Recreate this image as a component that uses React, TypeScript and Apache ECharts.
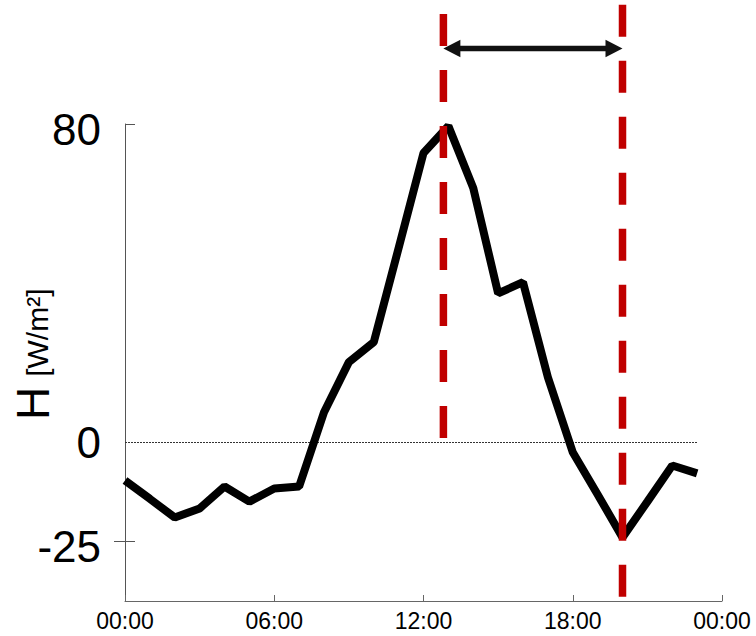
import { useEffect, useRef } from "react";
import * as echarts from "echarts";

// Hourly sensible heat flux H over one day
const hours = [0, 1, 2, 3, 4, 5, 6, 7, 8, 9, 10, 11, 12, 13, 14, 15, 16, 17, 18, 19, 20, 21, 22, 23];
const heatFlux = [
  -9.7, -14.3, -19.0, -16.7, -11.2, -15.0, -11.7, -11.2, 7.5, 20.1, 25.1, 48.8,
  72.7, 79.5, 63.9, 37.4, 40.2, 16.3, -2.6, -13.2, -24.0, -15.0, -5.9, -7.9,
];
const yLabelValues = [-25, 0, 80];
const xTickHours = [0, 6, 12, 18, 24];

// Vertical guides (peak and evening minimum) with their vertical extent in H units
const guideHours = [12.8, 20];
const guideTops = [107.7, 110];
const guideBottoms = [0.9, -39.1];
// Height (H units) of the double arrow spanning the two guides
const spanArrowValue = 99;

const FONT = "'Liberation Sans', Arial, Helvetica, sans-serif";

export default function App() {
  const ref = useRef<HTMLDivElement>(null);

  useEffect(() => {
    const el = ref.current;
    if (!el) return;
    const chart = echarts.init(el, null, { renderer: "svg" });

    chart.setOption({
      animation: false,
      grid: { left: 125, right: 34, top: 124, bottom: 35 },
      xAxis: {
        type: "value",
        min: 0,
        max: 24,
        interval: 6,
        axisLine: { onZero: false, lineStyle: { color: "#666", width: 1 } },
        axisTick: { inside: true, length: 6, customValues: xTickHours, lineStyle: { color: "#666" } },
        splitLine: { show: false },
        axisLabel: {
          customValues: xTickHours,
          formatter: (v: number) => String(v % 24).padStart(2, "0") + ":00",
          fontSize: 23,
          color: "#000",
          fontFamily: FONT,
          margin: 8,
        },
      },
      yAxis: [
        {
          type: "value",
          min: -40,
          max: 80,
          position: "left",
          axisLine: { show: true, onZero: false, lineStyle: { color: "#555", width: 1 } },
          axisTick: { show: true, customValues: [-25], length: 11, lineStyle: { color: "#555" } },
          splitLine: { show: false },
          axisLabel: {
            customValues: yLabelValues,
            margin: 24,
            formatter: (v: number) => (v === 0 ? "{z|0}" : `{s|${v}}`),
            rich: {
              z: { fontSize: 44, color: "#000", fontFamily: FONT },
              s: { fontSize: 44, color: "#000", fontFamily: FONT, padding: [10, 0, 0, 0] },
            },
          },
        },
        {
          type: "value",
          min: -40,
          max: 80,
          position: "left",
          axisLine: { show: false, onZero: false },
          axisTick: { show: true, inside: true, customValues: [-25, 80], length: 10, lineStyle: { color: "#555" } },
          axisLabel: { show: false },
          splitLine: { show: false },
        },
      ],
      series: [
        {
          type: "line",
          data: hours.map((h, i) => [h, heatFlux[i]]),
          symbol: "none",
          showSymbol: false,
          lineStyle: { color: "#000", width: 8 },
          z: 5,
          markLine: {
            silent: true,
            symbol: "none",
            label: { show: false },
            lineStyle: { color: "#333", width: 1, type: [2, 1] },
            data: [[{ coord: [hours[0], 0] }, { coord: [hours[hours.length - 1], 0] }]],
          },
        },
      ],
    });

    const px = (x: number, y: number) => chart.convertToPixel({ gridIndex: 0 }, [x, y]) as number[];

    const guides = guideHours.map((h, i) => {
      const a = px(h, guideTops[i]);
      const b = px(h, guideBottoms[i]);
      return {
        type: "line",
        z: 100,
        shape: { x1: a[0], y1: a[1], x2: b[0], y2: b[1] },
        style: { stroke: "#c00000", lineWidth: 7.5, lineDash: [32, 24], lineCap: "butt" },
      };
    });

    const left = px(guideHours[0], spanArrowValue);
    const right = px(guideHours[1], spanArrowValue);
    const head = 17;
    const half = 8.7;
    const ay = left[1];
    const arrow = [
      {
        type: "line",
        z: 101,
        shape: { x1: left[0] + head - 2, y1: ay, x2: right[0] - head + 2, y2: ay },
        style: { stroke: "#111", lineWidth: 5.5 },
      },
      {
        type: "polygon",
        z: 101,
        shape: { points: [[left[0], ay], [left[0] + head, ay - half], [left[0] + head, ay + half]] },
        style: { fill: "#111" },
      },
      {
        type: "polygon",
        z: 101,
        shape: { points: [[right[0], ay], [right[0] - head, ay - half], [right[0] - head, ay + half]] },
        style: { fill: "#111" },
      },
    ];

    const axisName = {
      type: "text",
      z: 100,
      x: 33,
      y: 420,
      rotation: Math.PI / 2,
      style: {
        text: "{h|H}{u|[W/m²]}",
        textAlign: "left",
        textVerticalAlign: "middle",
        rich: {
          h: { fontSize: 46, fontFamily: FONT, fill: "#000" },
          u: { fontSize: 30, fontFamily: FONT, fill: "#000", padding: [8, 0, 0, 10] },
        },
      },
    };

    chart.setOption({ graphic: [...guides, ...arrow, axisName] });

    return () => chart.dispose();
  }, []);

  return (
    <div
      ref={ref}
      style={{ position: "fixed", left: 0, top: 0, width: 756, height: 636, background: "#fff" }}
    />
  );
}
